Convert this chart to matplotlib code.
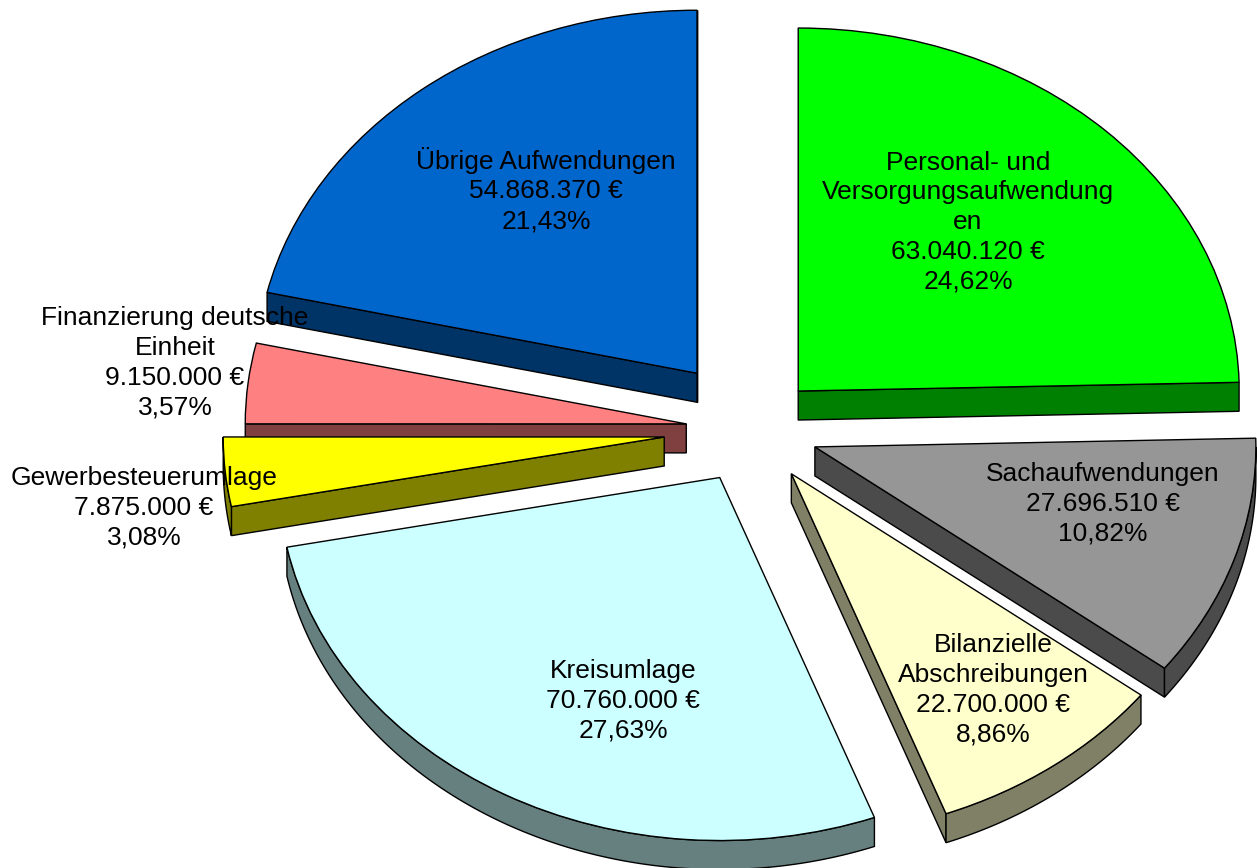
import numpy as np
import matplotlib
matplotlib.use("Agg")
import matplotlib.pyplot as plt
from matplotlib.colors import to_rgb

plt.rcParams['font.family'] = ['Liberation Sans', 'DejaVu Sans']

# data, in drawing order (counterclockwise from 12 o'clock)
categories = ['Übrige Aufwendungen', 'Finanzierung deutsche\nEinheit', 'Gewerbesteuerumlage',
              'Kreisumlage', 'Bilanzielle\nAbschreibungen', 'Sachaufwendungen',
              'Personal- und\nVersorgungsaufwendung\nen']
values = [54868370, 9150000, 7875000, 70760000, 22700000, 27696510, 63040120]
percents = ['21,43%', '3,57%', '3,08%', '27,63%', '8,86%', '10,82%', '24,62%']

colors = ['#0066CC', '#FF8080', '#FFFF00', '#CCFFFF', '#FFFFCC', '#969696', '#00FF00']
explode = [0.2, 0.15, 0.2, 0.15, 0.15, 0.15, 0.15]

# label centres in image pixels
label_px = [(546, 190), (175, 363), (144, 508), (623, 701), (993, 690), (1103, 504), (968, 222)]

W, H = 1257, 868
cx, cy = 752, 430     # pie centre, pixels
rx, ry = 441, 363     # radii, pixels
depth = 29 / ry       # extrusion in data units

fig = plt.figure(figsize=(W / 100, H / 100), dpi=100)
ax = fig.add_axes([0, 0, 1, 1])

wedges, _ = ax.pie(values, explode=explode, colors=colors, startangle=90,
                   wedgeprops={'edgecolor': 'black', 'linewidth': 1.0})
ax.set_aspect('auto')
ax.set_xlim(-cx / rx, (W - cx) / rx)
ax.set_ylim((cy - H) / ry, cy / ry)


def side(pts, color, z):
    pts = np.array(pts)
    low = pts[::-1] - [0, depth]
    poly = np.vstack([pts, low])
    ax.fill(poly[:, 0], poly[:, 1], facecolor=color, edgecolor='black', linewidth=1.0, zorder=z)


for i, w in enumerate(wedges):
    z = 2 * i + 2
    w.set_zorder(z + 1)
    dark = tuple(c * 0.5 for c in to_rgb(colors[i]))
    c = np.array(w.center)
    t1, t2 = w.theta1, w.theta2
    p1 = c + w.r * np.array([np.cos(np.radians(t1)), np.sin(np.radians(t1))])
    p2 = c + w.r * np.array([np.cos(np.radians(t2)), np.sin(np.radians(t2))])

    # radial walls that face the viewer
    if p1[0] > c[0]:
        side([c, p1], dark, z)
    if c[0] > p2[0]:
        side([p2, c], dark, z)

    # outer rim, only the lower half of the ellipse shows
    for a, b in [(180, 360), (540, 720)]:
        lo, hi = max(t1, a), min(t2, b)
        if hi > lo:
            th = np.radians(np.linspace(lo, hi, 120))
            side(np.c_[c[0] + w.r * np.cos(th), c[1] + w.r * np.sin(th)], dark, z)

    # label
    money = f"{values[i]:,}".replace(',', '.') + ' €'
    ax.text(label_px[i][0] / W, 1 - label_px[i][1] / H,
            f"{categories[i]}\n{money}\n{percents[i]}",
            transform=ax.transAxes, ha='center', va='center', multialignment='center',
            fontsize=19, linespacing=1.3, color='black', zorder=50)

fig.savefig('out.png', dpi=100)
